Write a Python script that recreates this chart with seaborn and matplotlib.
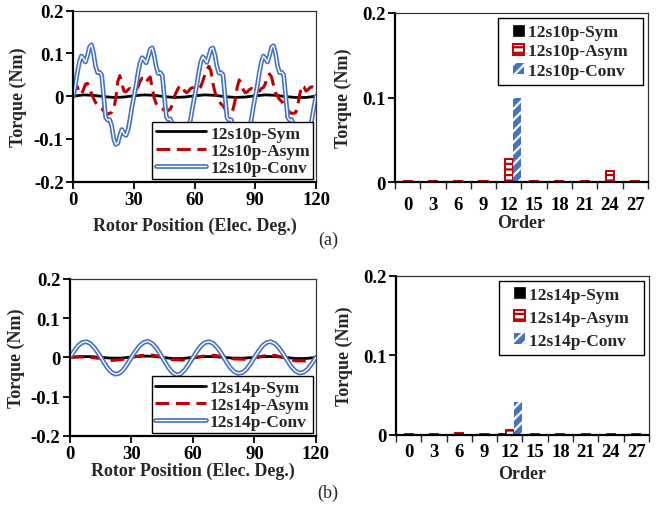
import numpy as np
import pandas as pd
import matplotlib
matplotlib.use("Agg")
import matplotlib.pyplot as plt
import matplotlib.patheffects as pe
from matplotlib.patches import Rectangle
from matplotlib.legend_handler import HandlerPatch
import seaborn as sns

# rotor position grids (elec. deg.)
pos_fine = np.arange(0, 121, 1)
pos_mid = np.arange(0, 121, 2)
pos_coarse = np.arange(0, 121, 5)

# (a) 12s10p cogging torque waveforms (Nm)
sym_10p = [0.000, 0.003, 0.002, -0.001, -0.003, -0.002, 0.001, 0.003, 0.002, -0.001,
           -0.003, -0.002, 0.001, 0.003, 0.002, -0.001, -0.003, -0.002, 0.001, 0.003,
           0.002, -0.001, -0.003, -0.003, 0.000]

asym_10p = [0.000, 0.018, 0.022, 0.008, 0.005, 0.015, 0.028, 0.030, 0.018, 0.006,
            -0.005, -0.015, -0.020, -0.022, -0.028, -0.035, -0.040, -0.042, -0.040, -0.038,
            -0.030, -0.005, 0.035, 0.048, 0.030, 0.012, 0.010, 0.015, 0.018, 0.015,
            0.012, 0.015, 0.022, 0.035, 0.042, 0.040, 0.032, 0.040, 0.045, 0.020,
            -0.005, -0.018, -0.025, -0.028, -0.030, -0.033, -0.035, -0.033, -0.030, -0.020,
            0.000, 0.010, 0.020, 0.025, 0.022, 0.012, 0.008, 0.012, 0.018, 0.020,
            0.022, 0.020, 0.018, 0.022, 0.035, 0.050, 0.062, 0.070, 0.060, 0.030,
            0.010, -0.005, -0.012, -0.018, -0.022, -0.030, -0.038, -0.042, -0.040, -0.030,
            -0.010, 0.020, 0.038, 0.030, 0.015, 0.008, 0.010, 0.015, 0.018, 0.016,
            0.012, 0.010, 0.012, 0.018, 0.020, 0.030, 0.045, 0.052, 0.045, 0.025,
            0.008, 0.000, -0.008, -0.012, -0.018, -0.025, -0.032, -0.038, -0.040, -0.040,
            -0.038, -0.020, 0.005, 0.025, 0.022, 0.012, 0.015, 0.020, 0.022, 0.020,
            0.015]

conv_10p = [0.000, 0.025, 0.055, 0.080, 0.094, 0.088, 0.080, 0.095, 0.115, 0.120,
            0.100, 0.070, 0.055, 0.056, 0.050, 0.000, -0.050, -0.056, -0.055, -0.070,
            -0.100, -0.113, -0.110, -0.092, -0.078, -0.088, -0.092, -0.080, -0.055, -0.025,
            0.000, 0.025, 0.055, 0.078, 0.090, 0.085, 0.078, 0.092, 0.110, 0.113,
            0.095, 0.068, 0.053, 0.055, 0.048, 0.000, -0.048, -0.055, -0.053, -0.068,
            -0.098, -0.110, -0.108, -0.090, -0.078, -0.088, -0.090, -0.078, -0.053, -0.025,
            0.000, 0.025, 0.055, 0.080, 0.092, 0.086, 0.079, 0.094, 0.110, 0.113,
            0.097, 0.070, 0.054, 0.055, 0.050, 0.000, -0.050, -0.056, -0.055, -0.070,
            -0.100, -0.117, -0.113, -0.094, -0.080, -0.090, -0.093, -0.080, -0.055, -0.025,
            0.000, 0.025, 0.055, 0.080, 0.094, 0.088, 0.080, 0.095, 0.115, 0.118,
            0.100, 0.070, 0.055, 0.056, 0.050, 0.000, -0.050, -0.056, -0.055, -0.070,
            -0.098, -0.110, -0.108, -0.090, -0.078, -0.086, -0.090, -0.078, -0.053, -0.025,
            0.000]

# (b) 12s14p cogging torque waveforms (Nm)
sym_14p = [0.000, 0.002, 0.002, 0.000, -0.002, -0.002, 0.001, 0.003, 0.003, 0.000,
           -0.003, -0.003, 0.000, 0.002, 0.002, 0.000, -0.002, -0.002, 0.000, 0.002,
           0.002, 0.000, -0.003, -0.003, 0.000]

asym_14p = [0.000, 0.001, 0.000, -0.003, -0.008, -0.006, 0.000, 0.005, 0.006, 0.001,
            -0.006, -0.007, -0.002, 0.003, 0.005, 0.002, -0.004, -0.005, -0.001, 0.004,
            0.005, -0.002, -0.009, -0.009, 0.000]

conv_14p = [0.000, 0.016, 0.030, 0.038, 0.040, 0.035, 0.024, 0.009, -0.008, -0.025,
            -0.037, -0.043, -0.041, -0.032, -0.017, 0.000, 0.016, 0.030, 0.038, 0.041,
            0.036, 0.025, 0.009, -0.009, -0.026, -0.039, -0.045, -0.042, -0.032, -0.017,
            0.000, 0.016, 0.030, 0.038, 0.040, 0.035, 0.024, 0.009, -0.009, -0.025,
            -0.036, -0.041, -0.039, -0.031, -0.017, 0.000, 0.016, 0.030, 0.038, 0.040,
            0.035, 0.024, 0.009, -0.008, -0.024, -0.035, -0.040, -0.038, -0.030, -0.016,
            0.000]

# harmonic spectra (Nm)
orders = ["0", "3", "6", "9", "12", "15", "18", "21", "24", "27"]
sym_10p_h = [0, 0, 0, 0, 0.002, 0, 0, 0, 0, 0]
asym_10p_h = [0.001, 0.001, 0.001, 0.002, 0.027, 0.001, 0.001, 0.001, 0.013, 0.001]
conv_10p_h = [0, 0, 0, 0, 0.099, 0, 0, 0, 0, 0]

sym_14p_h = [0, 0, 0, 0, 0.002, 0, 0, 0, 0, 0]
asym_14p_h = [0.001, 0.001, 0.002, 0.001, 0.006, 0.001, 0.001, 0.001, 0.001, 0.001]
conv_14p_h = [0.001, 0.001, 0.001, 0.001, 0.041, 0.001, 0.001, 0.001, 0.001, 0.001]

BLUE = "#4472C4"
RED = "#C00000"

sns.set_style("ticks")
plt.rcParams["font.family"] = ["Liberation Serif", "DejaVu Serif"]
plt.rcParams["font.weight"] = "bold"
plt.rcParams["axes.labelweight"] = "bold"
plt.rcParams["hatch.linewidth"] = 1.6

TICK_FS = 13.5
LABEL_FS = 13
LEG_FS = 12.5


def style_box(ax):
    for side in ["left", "bottom"]:
        ax.spines[side].set_linewidth(1.6)
        ax.spines[side].set_color("black")
    for side in ["top", "right"]:
        ax.spines[side].set_visible(True)
        ax.spines[side].set_linewidth(0.9)
        ax.spines[side].set_color("#333333")
    ax.tick_params(direction="out", length=5, width=1.3, labelsize=TICK_FS, pad=2, colors="black")


def fmt(v):
    return "0" if abs(v) < 1e-9 else f"{v:g}"


def square_handle(legend, orig_handle, xdescent, ydescent, width, height, fontsize):
    s = height
    return Rectangle((-xdescent + width - s, -ydescent), s, s)


def line_panel(ax, sym, asym, conv, pos_sym, pos_asym, pos_conv, tag, xlab_y, ylab_x):
    sns.lineplot(x=pos_sym, y=sym, ax=ax, color="black", linewidth=2.0)
    sns.lineplot(x=pos_asym, y=asym, ax=ax, color=RED, linewidth=2.2)
    l_asym = ax.lines[-1]
    l_asym.set_dashes([4.5, 2.2])
    sns.lineplot(x=pos_conv, y=conv, ax=ax, color="white", linewidth=1.0)
    l_conv = ax.lines[-1]
    l_conv.set_path_effects([pe.Stroke(linewidth=3.4, foreground=BLUE), pe.Normal()])
    lines = ax.lines[-3:]
    ax.set_xlim(0, 120)
    ax.set_ylim(-0.2, 0.2)
    ax.set_xticks([0, 30, 60, 90, 120])
    yt = [-0.2, -0.1, 0, 0.1, 0.2]
    ax.set_yticks(yt)
    ax.set_yticklabels([fmt(v) for v in yt])
    style_box(ax)
    ax.set_xlabel("Rotor Position (Elec. Deg.)", fontsize=LABEL_FS)
    ax.set_ylabel("Torque (Nm)", fontsize=LABEL_FS)
    ax.xaxis.set_label_coords(0.5, xlab_y)
    ax.yaxis.set_label_coords(ylab_x, 0.5)
    leg = ax.legend(lines, [f"{tag}-Sym", f"{tag}-Asym", f"{tag}-Conv"],
                    loc="lower right", fancybox=False, framealpha=1, edgecolor="black",
                    fontsize=LEG_FS, handlelength=2.9, labelspacing=0.05, borderpad=0.2,
                    borderaxespad=0.15, handletextpad=0.25)
    leg.get_frame().set_linewidth(1.0)


def bar_panel(ax, sym, asym, conv, tag, xlab_y, ylab_x, spacing, tick_pad):
    names = [f"{tag}-Sym", f"{tag}-Asym", f"{tag}-Conv"]
    df = pd.DataFrame({
        "Order": orders * 3,
        "Series": [names[0]] * len(orders) + [names[1]] * len(orders) + [names[2]] * len(orders),
        "Torque": list(sym) + list(asym) + list(conv),
    })
    sns.barplot(data=df, x="Order", y="Torque", hue="Series", order=orders, hue_order=names,
                palette=["black", "white", BLUE], width=0.96, saturation=1,
                errorbar=None, legend=False, ax=ax)
    c_sym, c_asym, c_conv = ax.containers[:3]
    for p in c_sym:
        p.set_facecolor("black")
        p.set_edgecolor("black")
        p.set_linewidth(0.5)
    for p in c_asym:
        p.set_facecolor("white")
        p.set_edgecolor(RED)
        p.set_hatch("---")
        p.set_linewidth(1.4)
    for p in c_conv:
        p.set_facecolor(BLUE)
        p.set_edgecolor("white")
        p.set_hatch("///")
        p.set_linewidth(0)
    ax.set_xlim(-0.5, len(orders) - 0.5)
    ax.set_ylim(0, 0.2)
    yt = [0, 0.1, 0.2]
    ax.set_yticks(yt)
    ax.set_yticklabels([fmt(v) for v in yt])
    style_box(ax)
    ax.set_xticks(np.arange(len(orders)))
    ax.set_xticklabels(orders)
    ax.set_xticks(np.arange(len(orders) + 1) - 0.5, minor=True)
    ax.tick_params(axis="x", which="major", length=0, pad=tick_pad)
    ax.tick_params(axis="x", which="minor", direction="out", length=5, width=1.0)
    ax.set_xlabel("Order", fontsize=LABEL_FS)
    ax.set_ylabel("Torque (Nm)", fontsize=LABEL_FS)
    ax.xaxis.set_label_coords(0.5, xlab_y)
    ax.yaxis.set_label_coords(ylab_x, 0.5)
    handles = [c_sym[0], c_asym[0], c_conv[0]]
    leg = ax.legend(handles, [n + "  " for n in names], loc="upper right", fancybox=False,
                    framealpha=1, edgecolor="black", fontsize=LEG_FS, handlelength=1.15,
                    handleheight=0.6, labelspacing=spacing, borderpad=0.35, borderaxespad=0.3,
                    handletextpad=0.25,
                    handler_map={Rectangle: HandlerPatch(patch_func=square_handle)})
    leg.get_frame().set_linewidth(1.0)


fig = plt.figure(figsize=(6.57, 5.10), dpi=100)
ax_a1 = fig.add_axes([0.1116, 0.6418, 0.3694, 0.3353])
ax_a2 = fig.add_axes([0.6012, 0.6406, 0.3851, 0.3320])
ax_b1 = fig.add_axes([0.1065, 0.1437, 0.3744, 0.3073])
ax_b2 = fig.add_axes([0.6027, 0.1451, 0.3851, 0.3124])

line_panel(ax_a1, sym_10p, asym_10p, conv_10p, pos_coarse, pos_fine, pos_fine,
           "12s10p", -0.206, -0.19)
bar_panel(ax_a2, sym_10p_h, asym_10p_h, conv_10p_h, "12s10p", -0.19, -0.17, 0.18, 10)
line_panel(ax_b1, sym_14p, asym_14p, conv_14p, pos_coarse, pos_coarse, pos_mid,
           "12s14p", -0.168, -0.183)
bar_panel(ax_b2, sym_14p_h, asym_14p_h, conv_14p_h, "12s14p", -0.19, -0.17, 0.4, 6)

fig.text(328 / 657, 1 - 240 / 510, "(a)", ha="center", va="center", fontsize=13, fontweight="normal")
fig.text(328 / 657, 1 - 493 / 510, "(b)", ha="center", va="center", fontsize=13, fontweight="normal")

fig.savefig("out.png", dpi=100)
